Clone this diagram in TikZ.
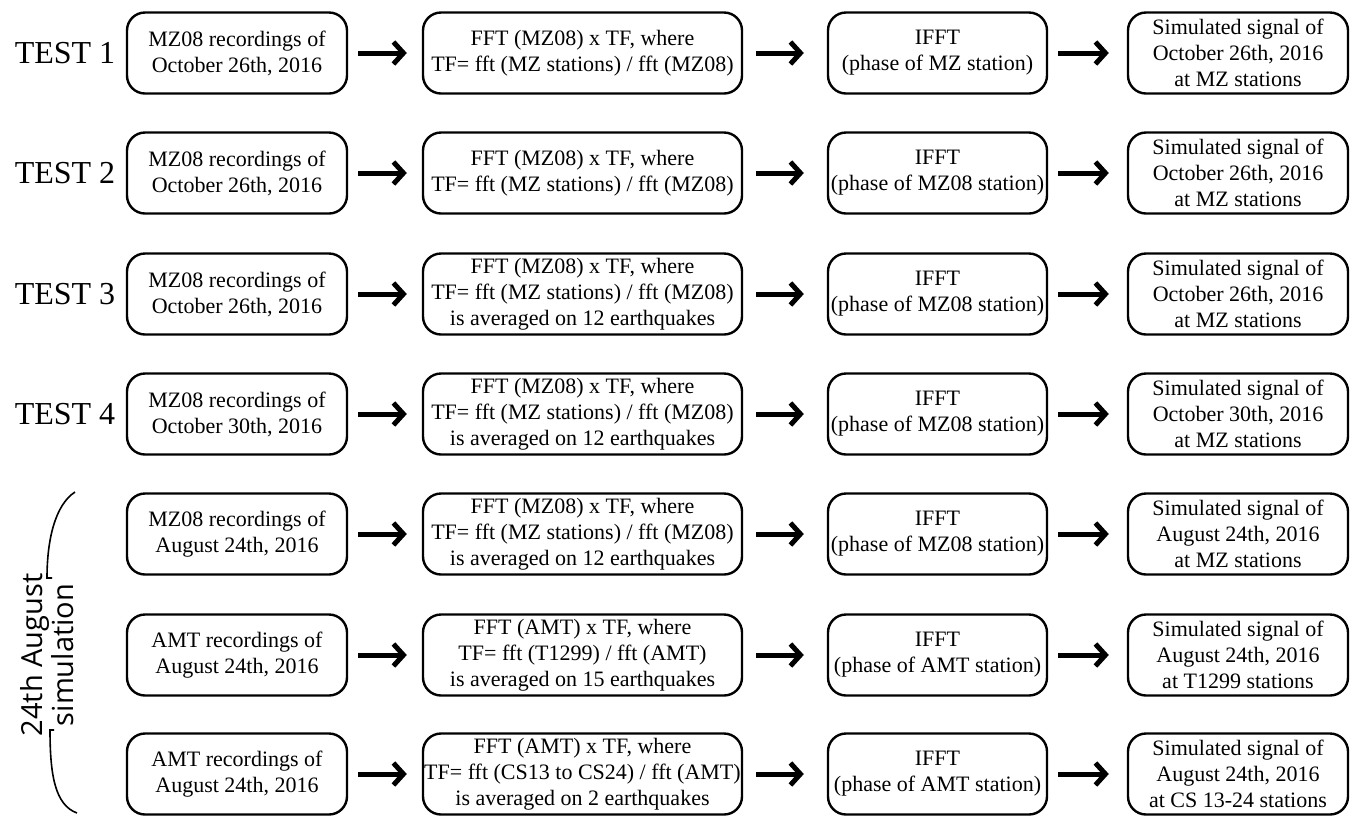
\documentclass[tikz,border=0pt]{standalone}
\usepackage{fontspec}
\setmainfont{Liberation Serif}
\newfontfamily\sidefont{Open Sans}
\usepackage{tikz}
\usetikzlibrary{positioning,arrows.meta}

\begin{document}
\begin{tikzpicture}[x=0.5pt,y=-0.5pt]
\tikzstyle{every node}+=[inner sep=0pt]
\tikzstyle{box}=[draw,black,line width=1.2pt,rounded corners=9pt,align=center,minimum height=40.5pt,font=\fontsize{11}{13}\selectfont]
\tikzstyle{inbox}=[box,minimum width=110pt]
\tikzstyle{fftbox}=[box,minimum width=159.5pt]
\tikzstyle{ifftbox}=[box,minimum width=109.5pt]
\tikzstyle{outbox}=[box,minimum width=110pt]
\tikzstyle{testlbl}=[font=\fontsize{16}{18}\selectfont]
\tikzstyle{flow}=[line width=2.5pt,-{Straight Barb[length=5pt,width=11pt]}]
\tikzstyle{flowa}=[flow,shorten <=5pt,shorten >=7.5pt]
\tikzstyle{flowb}=[flow,shorten <=6.5pt,shorten >=11.5pt]
\tikzstyle{flowc}=[flow,shorten <=5pt,shorten >=9pt]
\useasboundingbox (0,0) rectangle (1355,816);
\node [testlbl] (test1) at (65,53) {TEST 1};
\node [testlbl] (test2) at (65,173) {TEST 2};
\node [testlbl] (test3) at (65,294) {TEST 3};
\node [testlbl] (test4) at (65,414) {TEST 4};
\node [inbox] (in1) at (237,53) {MZ08 recordings of\\October 26th, 2016};
\node [fftbox] (fft1) at (582.5,53) {FFT (MZ08) x TF, where\\TF= fft (MZ stations) / fft (MZ08)};
\node [ifftbox] (ifft1) at (937.5,53) {IFFT\\(phase of MZ station)};
\node [outbox] (out1) at (1238,53) {Simulated signal of\\October 26th, 2016\\at MZ stations};
\node [inbox] (in2) at (237,173) {MZ08 recordings of\\October 26th, 2016};
\node [fftbox] (fft2) at (582.5,173) {FFT (MZ08) x TF, where\\TF= fft (MZ stations) / fft (MZ08)};
\node [ifftbox] (ifft2) at (937.5,173) {IFFT\\(phase of MZ08 station)};
\node [outbox] (out2) at (1238,173) {Simulated signal of\\October 26th, 2016\\at MZ stations};
\node [inbox] (in3) at (237,294) {MZ08 recordings of\\October 26th, 2016};
\node [fftbox] (fft3) at (582.5,294) {FFT (MZ08) x TF, where\\TF= fft (MZ stations) / fft (MZ08)\\is averaged on 12 earthquakes};
\node [ifftbox] (ifft3) at (937.5,294) {IFFT\\(phase of MZ08 station)};
\node [outbox] (out3) at (1238,294) {Simulated signal of\\October 26th, 2016\\at MZ stations};
\node [inbox] (in4) at (237,414) {MZ08 recordings of\\October 30th, 2016};
\node [fftbox] (fft4) at (582.5,414) {FFT (MZ08) x TF, where\\TF= fft (MZ stations) / fft (MZ08)\\is averaged on 12 earthquakes};
\node [ifftbox] (ifft4) at (937.5,414) {IFFT\\(phase of MZ08 station)};
\node [outbox] (out4) at (1238,414) {Simulated signal of\\October 30th, 2016\\at MZ stations};
\node [inbox] (in5) at (237,534) {MZ08 recordings of\\August 24th, 2016};
\node [fftbox] (fft5) at (582.5,534) {FFT (MZ08) x TF, where\\TF= fft (MZ stations) / fft (MZ08)\\is averaged on 12 earthquakes};
\node [ifftbox] (ifft5) at (937.5,534) {IFFT\\(phase of MZ08 station)};
\node [outbox] (out5) at (1238,534) {Simulated signal of\\August 24th, 2016\\at MZ stations};
\node [inbox] (in6) at (237,655) {AMT recordings of\\August 24th, 2016};
\node [fftbox] (fft6) at (582.5,655) {FFT (AMT) x TF, where\\TF= fft (T1299) / fft (AMT)\\is averaged on 15 earthquakes};
\node [ifftbox] (ifft6) at (937.5,655) {IFFT\\(phase of AMT station)};
\node [outbox] (out6) at (1238,655) {Simulated signal of\\August 24th, 2016\\at T1299 stations};
\node [inbox] (in7) at (237,774) {AMT recordings of\\August 24th, 2016};
\node [fftbox] (fft7) at (582.5,774) {FFT (AMT) x TF, where\\TF= fft (CS13 to CS24) / fft (AMT)\\is averaged on 2 earthquakes};
\node [ifftbox] (ifft7) at (937.5,774) {IFFT\\(phase of AMT station)};
\node [outbox] (out7) at (1238,774) {Simulated signal of\\August 24th, 2016\\at CS 13-24 stations};
\draw [flowa] (in1) -- (fft1);
\draw [flowb] (fft1) -- (ifft1);
\draw [flowc] (ifft1) -- (out1);
\draw [flowa] (in2) -- (fft2);
\draw [flowb] (fft2) -- (ifft2);
\draw [flowc] (ifft2) -- (out2);
\draw [flowa] (in3) -- (fft3);
\draw [flowb] (fft3) -- (ifft3);
\draw [flowc] (ifft3) -- (out3);
\draw [flowa] (in4) -- (fft4);
\draw [flowb] (fft4) -- (ifft4);
\draw [flowc] (ifft4) -- (out4);
\draw [flowa] (in5) -- (fft5);
\draw [flowb] (fft5) -- (ifft5);
\draw [flowc] (ifft5) -- (out5);
\draw [flowa] (in6) -- (fft6);
\draw [flowb] (fft6) -- (ifft6);
\draw [flowc] (ifft6) -- (out6);
\draw [flowa] (in7) -- (fft7);
\draw [flowb] (fft7) -- (ifft7);
\draw [flowc] (ifft7) -- (out7);
\node [rotate=90,align=center,font=\sidefont\fontsize{14.5}{15.5}\selectfont] (aug) at (47,655) {24th August\\simulation};
\draw [line width=0.8pt] (75,492) .. controls (55,505) and (47,540) .. (47,578) -- (52,578);
\draw [line width=0.8pt] (54,730) -- (50,730) .. controls (50,775) and (55,805) .. (77,813);
\end{tikzpicture}
\end{document}
